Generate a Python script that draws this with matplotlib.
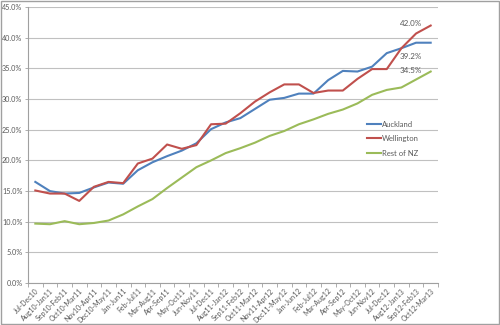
import numpy as np
import matplotlib.pyplot as plt
from matplotlib.ticker import FuncFormatter, FixedLocator

plt.rcParams["font.family"] = ["Lato", "DejaVu Sans"]

periods = ["Jul-Dec10", "Aug10-Jan11", "Sep10-Feb11", "Oct10-Mar11", "Nov10-Apr11",
           "Dec10-May11", "Jan-Jun11", "Feb-Jul11", "Mar-Aug11", "Apr-Sep11",
           "May-Oct11", "Jun-Nov11", "Jul-Dec11", "Aug11-Jan12", "Sep11-Feb12",
           "Oct11-Mar12", "Nov11-Apr12", "Dec11-May12", "Jan-Jun12", "Feb-Jul12",
           "Mar-Aug12", "Apr-Sep12", "May-Oct12", "Jun-Nov12", "Jul-Dec12",
           "Aug12-Jan13", "Sep12-Feb13", "Oct12-Mar13"]

auckland = [16.5, 15.0, 14.6, 14.7, 15.6, 16.4, 16.2, 18.4, 19.7, 20.7,
            21.6, 22.8, 25.1, 26.2, 26.9, 28.4, 29.9, 30.2, 30.9, 30.9,
            33.1, 34.6, 34.5, 35.3, 37.5, 38.3, 39.2, 39.2]
wellington = [15.1, 14.6, 14.6, 13.4, 15.7, 16.5, 16.3, 19.5, 20.3, 22.6,
              21.9, 22.5, 25.9, 26.0, 27.7, 29.6, 31.1, 32.4, 32.4, 31.0,
              31.4, 31.4, 33.3, 34.9, 34.9, 38.3, 40.7, 42.0]
rest_nz = [9.7, 9.6, 10.1, 9.6, 9.8, 10.2, 11.2, 12.5, 13.7, 15.5,
           17.2, 18.9, 20.0, 21.2, 22.0, 22.9, 24.0, 24.8, 25.9, 26.7,
           27.6, 28.3, 29.3, 30.7, 31.5, 31.9, 33.2, 34.5]

series = [("Auckland", auckland, "#4F81BD"),
          ("Wellington", wellington, "#C0504D"),
          ("Rest of NZ", rest_nz, "#9BBB59")]

grey = "#595959"
fig = plt.figure(figsize=(5, 3.25), dpi=100)
ax = fig.add_axes([0.056, 0.129, 0.82, 0.849])

x = np.arange(len(periods))
for name, vals, col in series:
    ax.plot(x, vals, color=col, lw=1.5, label=name, zorder=3)

# value labels on the last period
last = len(periods) - 1
for vals, dy in [(wellington, 1.4), (auckland, -10), (rest_nz, 0.5)]:
    ax.annotate(f"{vals[-1]:.1f}%", (last, vals[-1]), xytext=(-14.4, dy),
                textcoords="offset points", fontsize=5.8, color=grey,
                ha="center", va="center")

ax.set_xlim(-0.5, len(periods) - 0.5)
ax.set_ylim(0, 45)
ax.yaxis.set_major_locator(FixedLocator(np.arange(0, 46, 5)))
ax.yaxis.set_major_formatter(FuncFormatter(lambda v, p: f"{v:.1f}%"))
ax.grid(axis="y", color="#c0c0c0", lw=0.8, zorder=0)

ax.set_xticks(x)
ax.set_xticklabels(periods, rotation=45, ha="right", rotation_mode="anchor")
ax.set_xticks(np.arange(-0.5, len(periods)), minor=True)
ax.tick_params(axis="x", which="major", length=0, pad=3, labelsize=5, labelcolor=grey)
ax.tick_params(axis="x", which="minor", length=3, color="#a0a0a0", width=0.6)
ax.tick_params(axis="y", length=2, pad=2, color="#a0a0a0", width=0.6, labelsize=5.2,
               labelcolor=grey)

for s in ["top", "right"]:
    ax.spines[s].set_visible(False)
for s in ["left", "bottom"]:
    ax.spines[s].set_color("#a0a0a0")
    ax.spines[s].set_linewidth(0.8)

ax.legend(loc="upper left", bbox_to_anchor=(0.81, 0.614), frameon=False,
          fontsize=5.5, handlelength=1.8, handletextpad=0.2, labelspacing=1.0,
          labelcolor=grey)

# chart border
fig.patches.append(plt.Rectangle((0.002, 0.003), 0.996, 0.994, transform=fig.transFigure,
                                 fill=False, edgecolor="#a0a0a0", lw=1))

fig.savefig("out.png", dpi=100)
